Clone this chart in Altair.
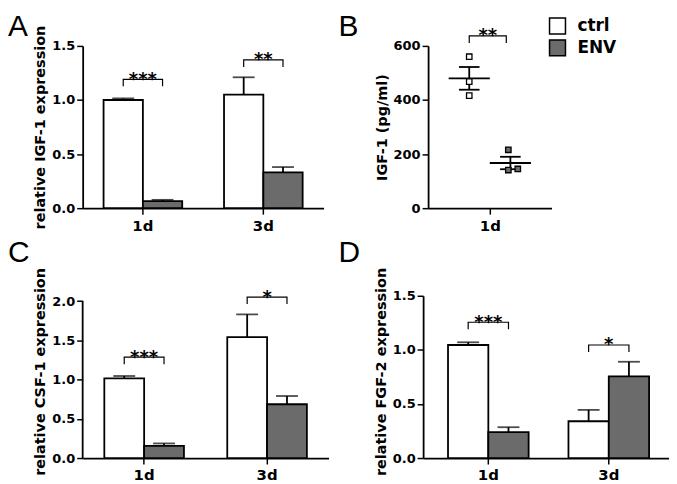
import altair as alt
import pandas as pd

days = ["1d", "3d"]
groups = ["ctrl", "ENV"]
fill_colors = ["#ffffff", "#6b6b6b"]

# Bar panels, order: 1d-ctrl, 1d-ENV, 3d-ctrl, 3d-ENV
a_mean = [1.00, 0.065, 1.05, 0.33]
a_sem = [0.015, 0.012, 0.16, 0.05]
a_sig_y = [1.19, 1.37]
a_sig_txt = ["***", "**"]

c_mean = [1.015, 0.156, 1.54, 0.685]
c_sem = [0.03, 0.03, 0.29, 0.105]
c_sig_y = [1.285, 2.05]
c_sig_txt = ["***", "*"]

d_mean = [1.045, 0.24, 0.34, 0.755]
d_sem = [0.025, 0.045, 0.105, 0.135]
d_sig_y = [1.255, 1.045]
d_sig_txt = ["***", "*"]

# Panel B (IGF-1 protein, pg/ml)
b_ctrl = [560, 468, 416]
b_env = [216, 141, 145]
b_ctrl_x = [-0.5, -0.5, -0.5]
b_env_x = [0.45, 0.45, 0.68]
b_group_x = [-0.5, 0.5]
b_mean = [480, 167]
b_sem = [42, 23]
b_sig_y = 637
b_sig_x = [-0.5, 0.4]
b_sig_txt = "**"

FONT = "DejaVu Sans"


def bar_frame(means, sems):
    rows, k = [], 0
    for d in days:
        for g in groups:
            rows.append({"day": d, "group": g, "mean": means[k], "top": means[k] + sems[k]})
            k += 1
    return pd.DataFrame(rows)


def bracket_frame(sig_y, leg):
    rows = []
    for i, d in enumerate(days):
        for j, (g, dv) in enumerate([("ctrl", -leg), ("ctrl", 0.0), ("ENV", 0.0), ("ENV", -leg)]):
            rows.append({"day": d, "group": g, "y": sig_y[i] + dv, "o": j, "b": d})
    return pd.DataFrame(rows)


def letter_layers(letter, lx, ly, spacer_y=None):
    out = [alt.Chart(pd.DataFrame({"t": [letter]})).mark_text(
        font="Liberation Sans", fontSize=30, align="left", baseline="alphabetic", color="black"
    ).encode(text="t:N", x=alt.value(lx), y=alt.value(ly))]
    if spacer_y is not None:
        out.append(alt.Chart(pd.DataFrame({"t": [0]})).mark_rule(opacity=0, strokeWidth=0.1).encode(
            x=alt.value(0), y=alt.value(spacer_y), y2=alt.value(spacer_y + 1)))
    return out


def bar_panel(letter, means, sems, sig_y, sig_txt, leg, ymax, yticks, title, width,
              x_pad_outer, x_align, off_pad, letter_x, letter_y, spacer_y=None,
              title_y=None, rule_top=None):
    df = bar_frame(means, sems)
    bdf = bracket_frame(sig_y, leg)
    sdf = pd.DataFrame({"day": days, "y": sig_y, "t": sig_txt})
    xscale = alt.Scale(paddingInner=0, paddingOuter=x_pad_outer, align=x_align)

    def xe(axis=False):
        if axis:
            return alt.X("day:N", sort=days, scale=xscale,
                         axis=alt.Axis(title=None, labelAngle=0))
        return alt.X("day:N", sort=days, scale=xscale)

    xo = alt.XOffset("group:N", sort=groups, scale=alt.Scale(paddingInner=0, paddingOuter=off_pad))
    yscale = alt.Scale(domain=[0, ymax], nice=False, zero=True)
    axkw = dict(values=yticks, format=".1f", title=title, domain=rule_top is None)
    if title_y is not None:
        axkw["titleY"] = title_y
    fill = alt.Fill("group:N", scale=alt.Scale(domain=groups, range=fill_colors), legend=None)

    bars = alt.Chart(df).mark_bar(stroke="black", strokeWidth=1.8).encode(
        x=xe(True), xOffset=xo, y=alt.Y("mean:Q", scale=yscale, axis=alt.Axis(**axkw)), fill=fill)
    err = alt.Chart(df).mark_rule(color="black", strokeWidth=1.8).encode(
        x=xe(), xOffset=xo, y=alt.Y("mean:Q"), y2="top:Q")
    cap = alt.Chart(df).mark_tick(color="black", thickness=1.8, size=22, orient="horizontal").encode(
        x=xe(), xOffset=xo, y=alt.Y("top:Q"))
    br = alt.Chart(bdf).mark_line(color="black", strokeWidth=1.2).encode(
        x=xe(), xOffset=xo, y=alt.Y("y:Q"), detail="b:N", order="o:Q")
    st = alt.Chart(sdf).mark_text(font=FONT, fontSize=18, fontWeight="bold", dy=5.5,
                                  baseline="alphabetic", color="black").encode(
        x=xe(), y=alt.Y("y:Q"), text="t:N")
    layers = [bars, err, cap, br, st] + letter_layers(letter, letter_x, letter_y, spacer_y)
    if rule_top is not None:
        rdf = pd.DataFrame({"lo": [0.0], "hi": [rule_top]})
        layers.append(alt.Chart(rdf).mark_rule(color="black", strokeWidth=1.8).encode(
            x=alt.value(0), y=alt.Y("lo:Q"), y2="hi:Q"))
    return alt.layer(*layers).properties(width=width, height=163)


# Panel B
pts = pd.DataFrame({
    "group": ["ctrl"] * len(b_ctrl) + ["ENV"] * len(b_env),
    "x": b_ctrl_x + b_env_x,
    "val": b_ctrl + b_env,
})
mdf = pd.DataFrame({"group": groups, "c": b_group_x, "mean": b_mean, "sem": b_sem})
mdf["lo"] = mdf["c"] - 0.5
mdf["hi"] = mdf["c"] + 0.5
mdf["ylo"] = mdf["mean"] - mdf["sem"]
mdf["yhi"] = mdf["mean"] + mdf["sem"]
caps = pd.concat([
    pd.DataFrame({"x1": mdf["c"] - 0.25, "x2": mdf["c"] + 0.25, "y": mdf["ylo"]}),
    pd.DataFrame({"x1": mdf["c"] - 0.25, "x2": mdf["c"] + 0.25, "y": mdf["yhi"]}),
])
leg_b = 26
bbr = pd.DataFrame({"x": [b_sig_x[0], b_sig_x[0], b_sig_x[1], b_sig_x[1]],
                    "y": [b_sig_y - leg_b, b_sig_y, b_sig_y, b_sig_y - leg_b], "o": [0, 1, 2, 3]})
bst = pd.DataFrame({"x": [sum(b_sig_x) / 2], "y": [b_sig_y], "t": [b_sig_txt]})

bxs = alt.Scale(domain=[-1.5, 1.5], nice=False, zero=False)
bys = alt.Scale(domain=[0, 600], nice=False)
bxax = alt.Axis(values=[0], labelExpr="'1d'", title=None)
byax = alt.Axis(values=[0, 200, 400, 600], format="d", title="IGF-1 (pg/ml)")

b_points = alt.Chart(pts).mark_point(shape="square", filled=True, size=30, stroke="black",
                                     strokeWidth=1.3, opacity=1).encode(
    x=alt.X("x:Q", scale=bxs, axis=bxax),
    y=alt.Y("val:Q", scale=bys, axis=byax),
    fill=alt.Fill("group:N", scale=alt.Scale(domain=groups, range=fill_colors),
                  legend=alt.Legend(orient="none", legendX=121, legendY=-29, title=None,
                                    symbolType="square", symbolSize=256,
                                    symbolStrokeColor="black", symbolStrokeWidth=1.5,
                                    symbolOpacity=1, labelFont=FONT, labelFontWeight="bold",
                                    labelFontSize=17, labelColor="black", labelOffset=11,
                                    rowPadding=0, padding=0)),
)
b_mean_l = alt.Chart(mdf).mark_rule(color="black", strokeWidth=1.8).encode(
    x=alt.X("lo:Q", scale=bxs, axis=bxax), x2="hi:Q", y=alt.Y("mean:Q", scale=bys, axis=byax))
b_sem_l = alt.Chart(mdf).mark_rule(color="black", strokeWidth=1.8).encode(
    x=alt.X("c:Q", scale=bxs, axis=bxax), y=alt.Y("ylo:Q", scale=bys, axis=byax), y2="yhi:Q")
b_caps = alt.Chart(caps).mark_rule(color="black", strokeWidth=1.8).encode(
    x=alt.X("x1:Q", scale=bxs, axis=bxax), x2="x2:Q", y=alt.Y("y:Q", scale=bys, axis=byax))
b_br = alt.Chart(bbr).mark_line(color="black", strokeWidth=1.2).encode(
    x=alt.X("x:Q", scale=bxs, axis=bxax), y=alt.Y("y:Q", scale=bys, axis=byax), order="o:Q")
b_st = alt.Chart(bst).mark_text(font=FONT, fontSize=18, fontWeight="bold", dy=5.5,
                                baseline="alphabetic", color="black").encode(
    x=alt.X("x:Q", scale=bxs, axis=bxax), y=alt.Y("y:Q", scale=bys, axis=byax), text="t:N")
panel_b = alt.layer(b_mean_l, b_sem_l, b_caps, b_points, b_br, b_st,
                    *letter_layers("B", -90, -9.5, -37)).properties(width=124, height=163)

panel_a = bar_panel("A", a_mean, a_sem, a_sig_y, a_sig_txt, 0.064, 1.5, [0, 0.5, 1.0, 1.5],
                    "relative IGF-1 expression", 242, 0, 0.5, 0.532, -75, -9.5, spacer_y=-37)
panel_c = bar_panel("C", c_mean, c_sem, c_sig_y, c_sig_txt, 0.089, 2.0 * 163 / 157.7,
                    [0, 0.5, 1.0, 1.5, 2.0], "relative CSF-1 expression", 247, 0, 0.5, 0.544,
                    -75, -34, title_y=76, rule_top=2.0)
panel_d = bar_panel("D", d_mean, d_sem, d_sig_y, d_sig_txt, 0.065, 1.5, [0, 0.5, 1.0, 1.5],
                    "relative FGF-2 expression", 247, 0.0207, 1.0, 0.494, -85, -34, title_y=76)

res = dict(fill="independent", xOffset="independent")
row1 = alt.hconcat(panel_a, panel_b, spacing=15).resolve_scale(**res)
row2 = alt.hconcat(panel_c, panel_d, spacing=10).resolve_scale(**res)

chart = alt.vconcat(row1, row2, spacing=5).resolve_scale(**res).properties(
    padding=0, background="white"
).configure(font=FONT).configure_view(stroke=None).configure_axis(
    domainColor="black", domainWidth=1.8, tickColor="black", tickWidth=1.5, tickSize=6,
    labelColor="black", labelFont=FONT, labelFontWeight="bold", titleColor="black",
    titleFont=FONT, titleFontWeight="bold", titleFontSize=14.5, grid=False, titlePadding=4,
).configure_axisX(labelFontSize=15, labelPadding=4).configure_axisY(labelFontSize=13, labelPadding=2)

chart.save("out.html", embed_options={"renderer": "svg", "actions": False})
